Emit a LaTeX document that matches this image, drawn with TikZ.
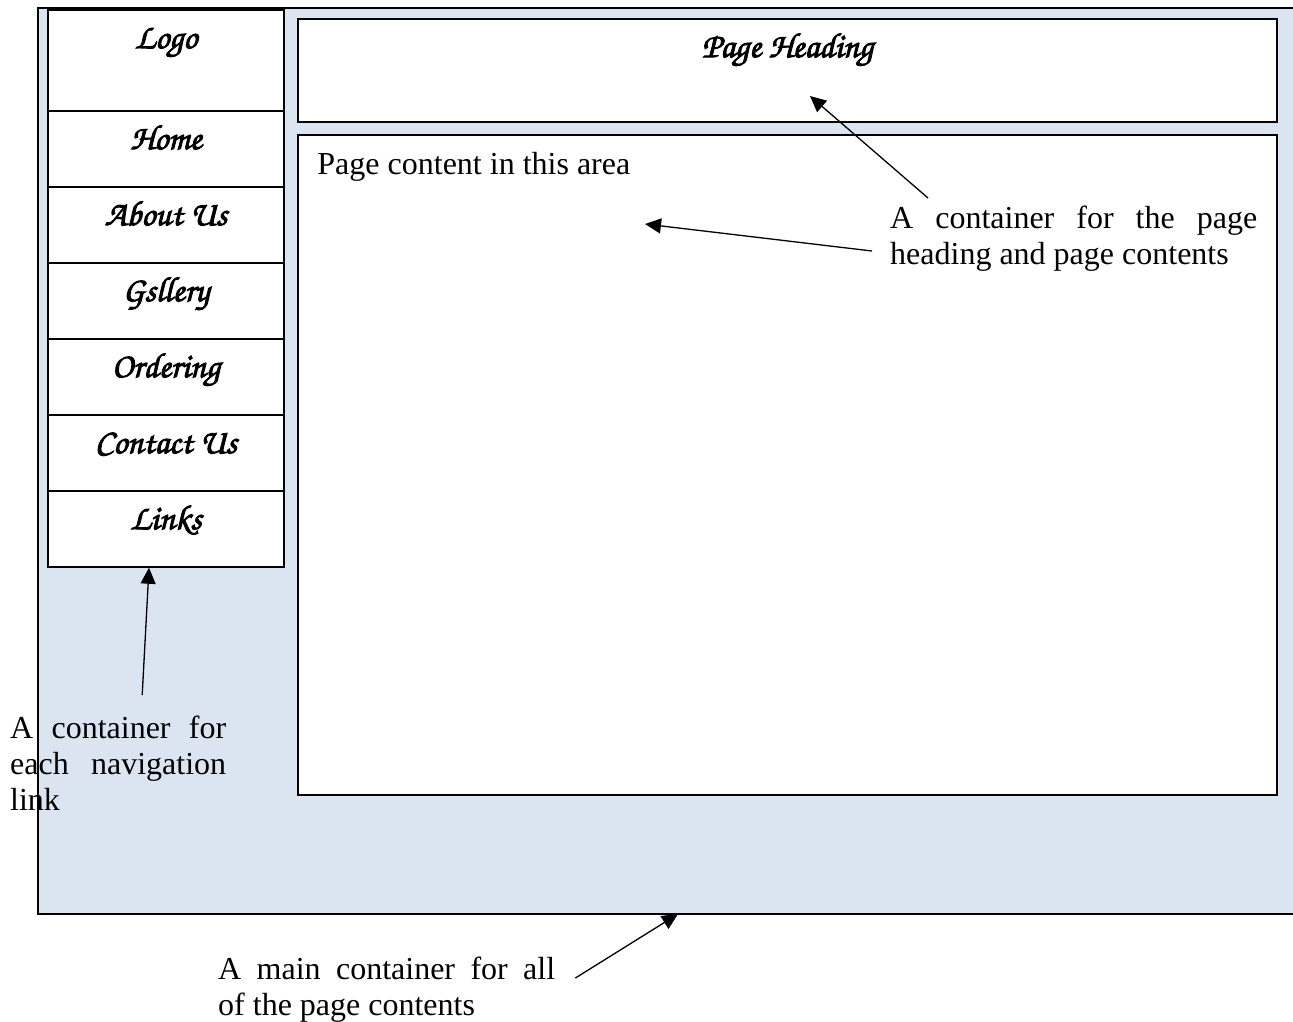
\documentclass[tikz,border=0pt]{standalone}
\usepackage[T1]{fontenc}
\usepackage{fontspec}
\setmainfont{Liberation Serif}
\usepackage{xcolor}
\usepackage{tikz}
\usetikzlibrary{positioning,arrows.meta}
\definecolor{pagebg}{RGB}{219,229,241}
\newcommand{\brushfont}{\fontencoding{T1}\fontfamily{pzc}\fontseries{mb}\fontshape{it}\fontsize{35}{38}\selectfont}
\newcommand{\notefont}{\fontsize{32}{36}\selectfont\hyphenpenalty=10000\exhyphenpenalty=10000}
\newcommand{\heavy}[1]{\special{pdf:literal 2 Tr 0.9 w}#1\special{pdf:literal 0 Tr}}

\begin{document}
\begin{tikzpicture}[x=1pt,y=-1pt,
  box/.style={draw, line width=1.5pt, fill=white, inner sep=0pt},
  navbox/.style={box, minimum width=236pt, minimum height=76pt},
  boxlab/.style={anchor=base, yshift=-39pt, font=\brushfont, inner sep=0pt},
  note/.style={font=\notefont, align=justify, inner sep=0pt, anchor=north west},
  pointer/.style={-{Triangle[length=16pt,width=15pt]}, line width=1.3pt}]
\useasboundingbox (0,0) rectangle (1293,1021);

% Main container
\fill[pagebg] (38,8) rectangle (1293,914);
\draw[line width=1.5pt] (1293,8) -- (38,8) -- (38,914) -- (1293,914);
\coordinate (maintip) at (678,914);

% Navigation links
\node[navbox, minimum height=101pt, label={[boxlab]north:\heavy{Logo}}] (logo) at (166,60.5) {};
\node[navbox, label={[boxlab]north:\heavy{Home}}] (home) at (166,149) {};
\node[navbox, label={[boxlab]north:\heavy{About Us}}] (about) at (166,225) {};
\node[navbox, label={[boxlab]north:\heavy{Gsllery}}] (gallery) at (166,301) {};
\node[navbox, label={[boxlab]north:\heavy{Ordering}}] (ordering) at (166,377) {};
\node[navbox, label={[boxlab]north:\heavy{Contact Us}}] (contact) at (166,453) {};
\node[navbox, label={[boxlab]north:\heavy{Links}}] (links) at (166,529) {};

% Page heading and page content
\node[box, minimum width=979pt, minimum height=103pt, label={[boxlab]north:\heavy{Page Heading}}] (heading) at (787.5,70.5) {};
\node[box, minimum width=979pt, minimum height=660pt] (content) at (787.5,465) {};
\node[font=\notefont, anchor=base west, inner sep=0pt] (contenttxt) at ([xshift=20pt,yshift=-40pt]content.north west) {Page content in this area};
\coordinate (headtip) at (810,96);
\coordinate (contip) at (645,224);

% Notes
\node[note, text width=367pt] (headnote) at (890,206) {A container for the page\linebreak heading and page contents};
\node[note, text width=216pt] (navnote) at (10,716) {A container for\linebreak each navigation\linebreak link};
\node[note, text width=337pt] (mainnote) at (218,957) {A main container for all\linebreak of the page contents};

% Pointers
\draw[pointer] ([xshift=38pt,yshift=8pt]headnote.north west) -- (headtip);
\draw[pointer] ([xshift=-18pt,yshift=-45pt]headnote.north west) -- (contip);
\draw[pointer] ([xshift=24pt,yshift=21pt]navnote.north) -- ([xshift=-17pt]links.south);
\draw[pointer] ([xshift=20pt,yshift=-21pt]mainnote.north east) -- (maintip);
\end{tikzpicture}
\end{document}
